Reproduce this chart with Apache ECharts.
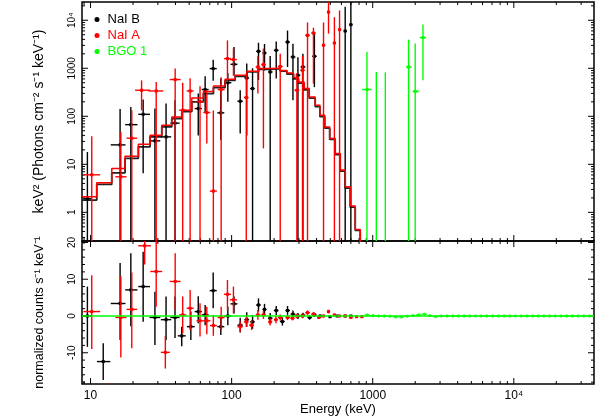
<!DOCTYPE html>
<html>
<head>
<meta charset="utf-8">
<script src="https://cdn.jsdelivr.net/npm/echarts@6/dist/echarts.min.js"></script>
<style>
  html, body { margin: 0; padding: 0; background: #fff; }
  #chart { width: 598px; height: 418px; }
</style>
</head>
<body>
<div id="chart"></div>
<script>
// axis ranges
const xMin = 8.7, xMax = 37000
const fluxMin = 0.253, fluxMax = 24000
const resMin = -18.5, resMax = 20.4

// tick positions
const xMajor = [10, 100, 1000, 10000]
const fluxMajor = [1, 10, 100, 1000, 10000]
const resMajor = [-10, 0, 10, 20]

// model histogram (keV edges, keV^2 flux per bin)
const modelEdges = [8.7, 11.07, 14.14, 17.56, 21.83, 26.42, 31.99, 37.65, 44.36, 52.2, 63.1, 74.3, 89.9, 105.9,
  128.2, 154.9, 187.5, 220.8, 246.3, 274.3, 297.8, 326.7, 354.5, 391, 422.2, 456.6, 495.5, 542, 588.3, 638.3,
  692.6, 751.4, 815.3, 899]
const modelB = [1.8, 3.82, 6.66, 13.3, 23.1, 37.3, 60.2, 90, 125, 200, 298, 397, 563, 682, 838, 950, 985, 877,
  760, 600, 490, 355, 238, 160, 99, 57, 33, 16, 7.2, 3.2, 1.28, 0.42, 0.12]
const modelA = [2.11, 4.12, 8.2, 14.8, 26.3, 40.5, 65.3, 97.2, 134, 240, 330, 430, 590, 720, 870, 985, 1000, 900,
  800, 640, 518, 378, 253, 170, 105, 60, 34.6, 16.8, 7.6, 3.4, 1.35, 0.44, 0.12]

// [E, E low, E high, flux, flux low, flux high]  (flux 0 = below plot)
const naiBFlux = [
  [9.5, 8.9, 10.2, 1.92, 0, 18], [16.2, 13.9, 17.7, 25.4, 0, 142], [19.3, 17.6, 21.5, 67, 0, 156],
  [23.6, 21.8, 26.4, 110, 6.5, 225], [28.6, 26.2, 31.2, 30.8, 0, 145], [34.3, 31.5, 37.3, 37.3, 0, 184],
  [39.7, 36.8, 42.8, 72, 0, 216], [58, 54.7, 61.5, 145, 40, 300], [64.9, 61.3, 68.7, 361, 120, 685],
  [74, 69.9, 78.4, 985, 550, 1500], [83.8, 79.1, 88.7, 118, 32, 610], [94, 88.7, 99.5, 500, 200, 800],
  [104, 98.2, 110, 1211, 710, 2770], [115, 110, 120, 206, 44, 350], [128, 123, 133, 629, 40, 1250],
  [140.7, 135, 146, 378, 0, 1000], [155, 149, 161, 2256, 570, 3400], [171, 165, 177, 2080, 900, 3200],
  [187.6, 181, 195, 838, 0, 1800], [207, 199, 215, 2366, 610, 3600], [249, 240, 259, 3520, 1060, 6100],
  [272, 262, 283, 1718, 215, 3250], [295, 284, 307, 715, 0, 1700], [320, 308, 333, 1065, 0, 2000],
  [386, 372, 401, 1775, 405, 5600], [638, 621, 656, 5970, 0, 19000], [700, 681, 720, 8100, 0, 40000]
]
const naiAFlux = [
  [10.2, 8.9, 11.7, 6.05, 0, 38.6], [16.4, 15.0, 18.0, 5.5, 0, 47], [19.6, 18.0, 21.4, 35, 0, 134],
  [23.0, 20.7, 26.5, 349, 133, 560], [29.2, 25.7, 32.8, 337, 0, 520], [39.8, 36.4, 43.5, 582, 0, 985],
  [45, 42.5, 47.6, 134, 0, 500], [50.8, 48.0, 53.8, 337, 0, 620], [59.7, 56.4, 63.2, 203, 0, 420],
  [66.7, 63.0, 70.6, 120, 27, 345], [74.2, 70.1, 78.6, 2.77, 0, 132], [84.3, 79.6, 89.3, 361, 0, 650],
  [93.4, 88.2, 98.9, 1590, 520, 3800], [103, 97.3, 109, 1520, 700, 2600], [127, 122, 132, 246, 0, 780],
  [153.5, 148, 159.5, 1065, 300, 1800], [168, 162, 175, 1195, 21.5, 2570], [221, 213, 230, 1090, 0, 2000],
  [290, 279, 302, 349, 0, 800], [318, 306, 331, 908, 0, 1800], [345, 332, 359, 4850, 0, 9000],
  [380, 366, 395, 5420, 480, 7000], [448, 436, 461, 3010, 0, 9000], [486, 473, 500, 14800, 5280, 40000],
  [535, 521, 550, 3360, 0, 11600], [582, 566, 598, 6380, 0, 16000]
]
const bgoFlux = [
  [910, 840, 985, 361, 0, 2170], [1060, 985, 1140, 0, 0, 838], [1228, 1140, 1320, 0, 0, 820],
  [1795, 1720, 1890, 1065, 0, 3950], [2000, 1920, 2120, 330, 0, 3270], [2270, 2150, 2390, 4350, 560, 8200]
]

// [E, E low, E high, residual, residual low, residual high]
const naiBRes = [
  [9.5, 8.9, 10.2, 0, -8.4, 8.0], [12.3, 11.1, 13.8, -12.4, -17.4, -7.4], [16.2, 13.9, 17.7, 3.4, -6.5, 14.4],
  [19.3, 17.6, 21.5, 7.1, -2.8, 17.1], [23.6, 21.8, 26.4, 8.0, -1.6, 17.5], [28.6, 26.2, 31.2, -0.4, -7.9, 6.6],
  [34.3, 31.5, 37.3, -1.0, -6.5, 5.3], [39.7, 36.8, 42.8, -0.4, -6.0, 5.3], [44.3, 41.5, 47.3, -5.4, -8.2, -2.9],
  [51.4, 48.2, 54.8, -2.9, -6.5, 1.2], [58, 54.7, 61.5, 1.2, -2.0, 5.4], [64.9, 61.3, 68.7, 0.3, -2.5, 3.0],
  [74, 69.9, 78.4, 6.9, 2.1, 11.8], [83.8, 79.1, 88.7, -2.9, -5.2, 0.3], [94, 88.7, 99.5, 0, -2.5, 2.5],
  [104, 98.2, 110, 3.3, 0.7, 5.3], [115, 110, 120, -2.5, -4.5, -0.5], [128, 123, 133, -1.0, -3.0, 1.0],
  [140.7, 135, 146, -1.6, -3.5, 0.3], [155, 149, 161, 3.0, 1.2, 4.8], [171, 165, 177, 1.8, 0.3, 3.3],
  [187.6, 181, 195, -0.6, -2.0, 0.8], [207, 199, 215, 1.5, 0.3, 2.7], [229, 220, 238, -1.5, -2.6, -0.4],
  [249, 240, 259, 1.5, 0.3, 2.7], [272, 262, 283, 0.5, -0.5, 1.5], [295, 284, 307, 0, -0.8, 0.8],
  [320, 308, 333, 0.2, -0.5, 0.9], [357, 344, 371, -0.4, -1.0, 0.2], [386, 372, 401, 0.3, -0.3, 0.9],
  [424, 412, 436, 0, -0.4, 0.4], [498, 485, 512, -0.2, -0.5, 0.1], [560, 545, 576, 0, -0.3, 0.3],
  [638, 621, 656, 0, -0.3, 0.3], [700, 681, 720, 0, -0.3, 0.3]
]
const naiARes = [
  [10.2, 8.9, 11.7, 1.2, -9.0, 11.1], [13.4, 12.3, 14.6, -22, -26, -18.3], [16.4, 15.0, 18.0, -0.4, -11.3, 10.8],
  [19.6, 18.0, 21.4, 1.8, -8.8, 11.8], [24.2, 21.8, 26.8, 19.1, 14, 24], [29.2, 26.5, 32.2, 12.1, 2.5, 22],
  [33.9, 31.5, 36.5, -9.9, -14.3, -5.4], [39.8, 36.4, 43.5, 9.4, 1.6, 17.1], [45, 42.5, 47.6, 0.3, -4.7, 5.3],
  [50.8, 48.0, 53.8, 2.1, -3.8, 7.1], [59.7, 56.4, 63.2, -1.3, -5.6, 3.5], [66.7, 63.0, 70.6, -1.3, -5.0, 2.5],
  [74.2, 70.1, 78.6, -2.6, -5.4, 0.3], [84.3, 79.6, 89.3, -0.4, -3.8, 2.5], [93.4, 88.2, 98.9, 5.9, 1.6, 9.8],
  [103, 97.3, 109, 4.4, 0.7, 8.0], [115, 110, 120, -2.9, -4.3, -1.5], [127, 122, 132, -1.6, -3.0, -0.2],
  [138.5, 133, 144, -2.5, -3.8, -1.2], [153.5, 148, 159.5, 0.3, -1.0, 1.6], [168, 162, 175, 0.3, -0.8, 1.4],
  [187.5, 181, 194, -1.6, -2.6, -0.6], [206, 199, 213, -1.0, -2.0, 0], [221, 213, 230, -0.4, -1.2, 0.4],
  [249, 240, 259, -0.4, -1.1, 0.3], [270, 260, 280, -0.6, -1.2, 0], [290, 279, 302, 0, -0.6, 0.6],
  [318, 306, 331, 0, -0.6, 0.6], [345, 332, 359, 0.9, 0.3, 1.5], [380, 366, 395, 0.5, 0, 1.0],
  [415, 403, 428, -0.4, -0.8, 0], [448, 436, 461, 0, -0.4, 0.4], [486, 473, 500, 1.2, 0.7, 1.7],
  [535, 521, 550, 0.3, 0, 0.6], [582, 566, 598, 0, -0.3, 0.3], [638, 621, 656, 0, -0.2, 0.2],
  [700, 681, 720, -0.4, -0.6, -0.2], [767, 746, 789, -0.2, -0.4, 0], [838, 815, 862, -0.2, -0.4, 0]
]
// BGO residuals: [E, residual]
const bgoRes = [
  [914, 0.3], [1002, 0.1], [1102, 0], [1208, 0], [1327, -0.1], [1455, -0.3], [1596, -0.3], [1754, -0.1],
  [1923, 0.1], [2113, 0.3], [2317, 0.5], [2541, 0.1], [2793, -0.2], [3062, 0], [3365, 0], [3690, 0],
  [4046, 0], [4446, 0], [4875, 0], [5358, 0], [5875, 0], [6442, 0], [7079, 0], [7762, 0], [8531, 0],
  [9354, 0], [10257, 0], [11272, 0], [12359, 0], [13583, 0], [14894, 0], [16331, 0], [17947, 0],
  [19679, 0], [21627, 0], [23714, 0], [26002, 0], [28576, 0], [31333, 0], [34435, 0]
]

const FONT = "'Liberation Sans', Arial, Helvetica, sans-serif"
const BLACK = '#000000', RED = '#ff0000', GREEN = '#00ff00'

function steps(edges, vals) {
  const pts = []
  vals.forEach((v, i) => { pts.push([edges[i], v]); pts.push([edges[i + 1], v]) })
  return pts
}

// minor ticks at 2..9 of each decade
function logMinor(lo, hi) {
  const out = []
  for (let d = 0.1; d <= 1e5; d *= 10) {
    for (let m = 2; m <= 9; m++) {
      const v = +(m * d).toPrecision(6)
      if (v > lo && v < hi) out.push(v)
    }
  }
  return out
}
function linMinor(lo, hi, step, majors) {
  const out = []
  for (let v = Math.ceil(lo / step) * step; v < hi; v += step) {
    if (!majors.includes(v)) out.push(v)
  }
  return out
}

const MAJ = 6, MIN = 3
const xTicks = xMajor.map(v => [v, MAJ]).concat(logMinor(xMin, xMax).map(v => [v, MIN]))
const fluxTicks = fluxMajor.map(v => [v, MAJ]).concat(logMinor(fluxMin, fluxMax).map(v => [v, MIN]))
const resTicks = resMajor.map(v => [v, MAJ]).concat(linMinor(resMin, resMax, 2, resMajor).map(v => [v, MIN]))

function frameTicks(yTicks, logY) {
  return function (params, api) {
    const cs = params.coordSys
    const l = cs.x, r = cs.x + cs.width, t = cs.y, b = cs.y + cs.height
    const refY = logY ? 1 : 0
    const kids = []
    const seg = (x1, y1, x2, y2) => kids.push({
      type: 'line', shape: { x1, y1, x2, y2 }, style: { stroke: '#000', lineWidth: 1 }
    })
    xTicks.forEach(([v, len]) => {
      const x = api.coord([v, refY])[0]
      if (x < l + 1 || x > r - 1) return
      seg(x, b, x, b - len)
      seg(x, t, x, t + len)
    })
    yTicks.forEach(([v, len]) => {
      const y = api.coord([1000, v])[1]
      if (y < t + 1 || y > b - 1) return
      seg(l, y, l + len, y)
      seg(r, y, r - len, y)
    })
    return { type: 'group', children: kids }
  }
}

function errorBars(color, logY) {
  return function (params, api) {
    const cs = params.coordSys
    const top = cs.y, bottom = cs.y + cs.height
    const e = api.value(0), eLo = api.value(1), eHi = api.value(2)
    const v = api.value(3), vLo = api.value(4), vHi = api.value(5)
    const refY = logY ? 1 : 0
    const yPix = val => (logY && !(val > 0)) ? bottom + 20 : api.coord([e, val])[1]
    const x = api.coord([e, refY])[0]
    const kids = []
    const st = { stroke: color, lineWidth: 1.4 }
    let y1 = yPix(vHi), y2 = yPix(vLo)
    if (!(y2 < top || y1 > bottom)) {
      y1 = Math.max(top, y1); y2 = Math.min(bottom, y2)
      kids.push({ type: 'line', shape: { x1: x, y1: y1, x2: x, y2: y2 }, style: st })
    }
    const shown = logY ? v > 0 : true
    if (shown) {
      const y = yPix(v)
      if (y >= top && y <= bottom) {
        const xa = api.coord([eLo, refY])[0], xb = api.coord([eHi, refY])[0]
        kids.push({ type: 'line', shape: { x1: xa, y1: y, x2: xb, y2: y }, style: st })
        kids.push({ type: 'rect', shape: { x: x - 1.5, y: y - 1.5, width: 3, height: 3 }, style: { fill: color } })
      }
    }
    return { type: 'group', children: kids }
  }
}

function bgoResRender(params, api) {
  const x = api.coord([api.value(0), api.value(1)])
  const st = { stroke: GREEN, lineWidth: 1.4 }
  return {
    type: 'group', children: [
      { type: 'line', shape: { x1: x[0] - 2.5, y1: x[1], x2: x[0] + 2.5, y2: x[1] }, style: st },
      { type: 'line', shape: { x1: x[0], y1: x[1] - 1.5, x2: x[0], y2: x[1] + 1.5 }, style: st }
    ]
  }
}

function powLabel(v) {
  const lg = Math.log10(v), p = Math.round(lg)
  if (Math.abs(lg - p) > 1e-6) return ''
  return p === 4 ? '10\u2074' : String(Math.round(v))
}

const chart = echarts.init(document.getElementById('chart'), null, { renderer: 'canvas' })

chart.setOption({
  animation: false,
  backgroundColor: '#fff',
  textStyle: { fontFamily: FONT, color: '#000' },
  legend: {
    data: [
      { name: 'NaI B', textStyle: { color: BLACK } },
      { name: 'NaI A', textStyle: { color: RED } },
      { name: 'BGO 1', textStyle: { color: GREEN } }
    ],
    orient: 'vertical',
    left: 89.5,
    top: 8,
    icon: 'circle',
    itemWidth: 5,
    itemHeight: 5,
    itemGap: 3,
    selectedMode: false,
    textStyle: { fontSize: 13, fontFamily: FONT, padding: [0, 0, 0, 3] }
  },
  grid: [
    { left: 82, right: 4, top: 2, height: 239, show: true, borderColor: '#000', borderWidth: 1.5, backgroundColor: 'transparent' },
    { left: 82, right: 4, top: 241, bottom: 34, show: true, borderColor: '#000', borderWidth: 1.5, backgroundColor: 'transparent' }
  ],
  xAxis: [
    {
      type: 'log', gridIndex: 0, min: xMin, max: xMax,
      axisLine: { show: false }, axisTick: { show: false }, axisLabel: { show: false }, splitLine: { show: false }
    },
    {
      type: 'log', gridIndex: 1, min: xMin, max: xMax,
      name: 'Energy (keV)', nameLocation: 'middle', nameGap: 19,
      nameTextStyle: { fontSize: 13, fontFamily: FONT, color: '#000' },
      axisLine: { show: false }, axisTick: { show: false }, splitLine: { show: false },
      axisLabel: { fontSize: 12, fontFamily: FONT, color: '#000', margin: 6, formatter: powLabel, showMinLabel: false, showMaxLabel: false }
    }
  ],
  yAxis: [
    {
      type: 'log', gridIndex: 0, min: fluxMin, max: fluxMax, splitNumber: 6,
      name: 'keV\u00b2 (Photons cm\u207b\u00b2 s\u207b\u00b9 keV\u207b\u00b9)', nameLocation: 'middle', nameGap: 36,
      nameTextStyle: { fontSize: 14, fontFamily: FONT, color: '#000' },
      axisLine: { show: false }, axisTick: { show: false }, splitLine: { show: false },
      axisLabel: { fontSize: 10, fontFamily: FONT, color: '#000', rotate: 90, margin: 5, formatter: powLabel, showMinLabel: false, showMaxLabel: false }
    },
    {
      type: 'value', gridIndex: 1, min: resMin, max: resMax,
      name: 'normalized counts s\u207b\u00b9 keV\u207b\u00b9', nameLocation: 'middle', nameGap: 36,
      nameTextStyle: { fontSize: 12.5, fontFamily: FONT, color: '#000' },
      axisLine: { show: false }, axisTick: { show: false }, splitLine: { show: false },
      axisLabel: { fontSize: 10, fontFamily: FONT, color: '#000', rotate: 90, margin: 5, showMinLabel: false, showMaxLabel: false }
    }
  ],
  series: [
    {
      name: 'ticks top', type: 'custom', xAxisIndex: 0, yAxisIndex: 0, silent: true, z: 1,
      renderItem: frameTicks(fluxTicks, true), data: [[1000, 1]]
    },
    {
      name: 'ticks bottom', type: 'custom', xAxisIndex: 1, yAxisIndex: 1, silent: true, z: 1,
      renderItem: frameTicks(resTicks, false), data: [[1000, 0]]
    },
    {
      name: 'NaI B model', type: 'line', xAxisIndex: 0, yAxisIndex: 0, data: steps(modelEdges, modelB),
      symbol: 'none', lineStyle: { color: '#222', width: 1.8 }, z: 3
    },
    {
      name: 'NaI B', type: 'custom', xAxisIndex: 0, yAxisIndex: 0, data: naiBFlux,
      encode: { x: 0, y: 5 }, itemStyle: { color: BLACK }, renderItem: errorBars(BLACK, true), z: 4
    },
    {
      name: 'NaI A model', type: 'line', xAxisIndex: 0, yAxisIndex: 0, data: steps(modelEdges, modelA),
      symbol: 'none', lineStyle: { color: RED, width: 1.5 }, z: 5
    },
    {
      name: 'NaI A', type: 'custom', xAxisIndex: 0, yAxisIndex: 0, data: naiAFlux,
      encode: { x: 0, y: 5 }, itemStyle: { color: RED }, renderItem: errorBars(RED, true), z: 6
    },
    {
      name: 'BGO 1', type: 'custom', xAxisIndex: 0, yAxisIndex: 0, data: bgoFlux,
      encode: { x: 0, y: 5 }, itemStyle: { color: GREEN }, renderItem: errorBars(GREEN, true), z: 6
    },
    {
      name: 'NaI B res', type: 'custom', xAxisIndex: 1, yAxisIndex: 1, data: naiBRes,
      encode: { x: 0, y: 3 }, itemStyle: { color: BLACK }, renderItem: errorBars(BLACK, false), z: 4
    },
    {
      name: 'NaI A res', type: 'custom', xAxisIndex: 1, yAxisIndex: 1, data: naiARes,
      encode: { x: 0, y: 3 }, itemStyle: { color: RED }, renderItem: errorBars(RED, false), z: 5
    },
    {
      name: 'BGO 1 res', type: 'custom', xAxisIndex: 1, yAxisIndex: 1, data: bgoRes,
      encode: { x: 0, y: 1 }, itemStyle: { color: GREEN }, renderItem: bgoResRender, z: 6
    },
    {
      name: 'zero', type: 'line', xAxisIndex: 1, yAxisIndex: 1, data: [[xMin, 0], [xMax, 0]],
      symbol: 'none', lineStyle: { color: GREEN, width: 1.5 }, z: 7, silent: true
    }
  ]
})
</script>
</body>
</html>
